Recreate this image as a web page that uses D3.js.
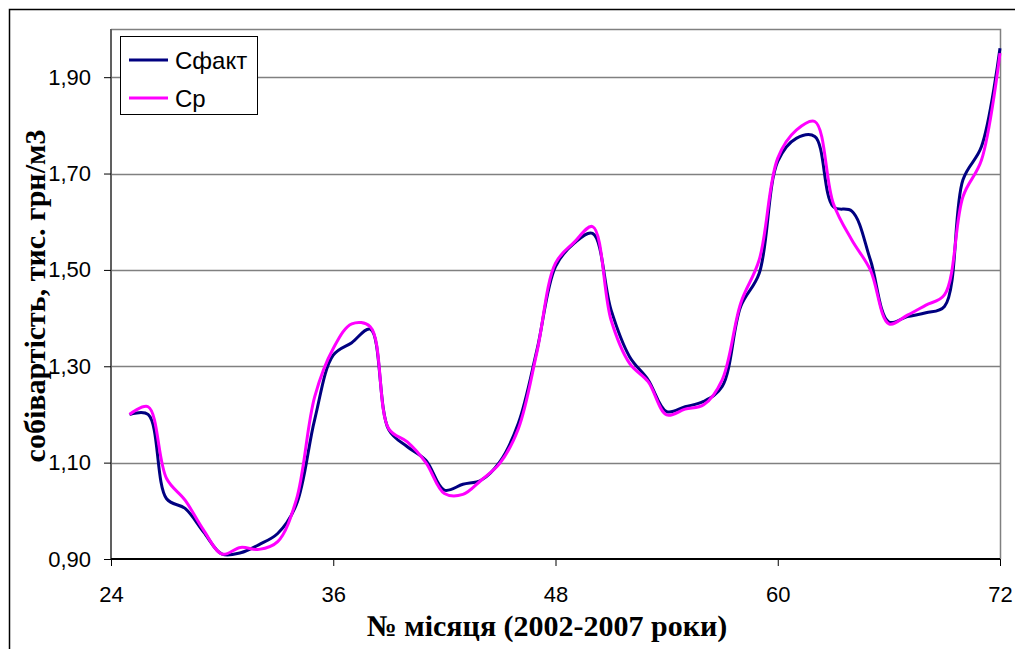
<html>
<head>
<meta charset="utf-8">
<script src="https://d3js.org/d3.v7.min.js"></script>
<style>
  body { margin: 0; background: #fff; }
</style>
</head>
<body>
<svg width="1015" height="649"></svg>
<script>
// months on the x axis
var months = [25, 26, 27, 28, 29, 30, 31, 32, 33, 34, 35, 36,
              37, 38, 39, 40, 41, 42, 43, 44, 45, 46, 47, 48,
              49, 50, 51, 52, 53, 54, 55, 56, 57, 58, 59, 60,
              61, 62, 63, 64, 65, 66, 67, 68, 69, 70, 71, 72];
// Сфакт
var cFact = [1.200, 1.200, 1.025, 1.005, 0.956, 0.910, 0.913, 0.930, 0.953, 1.012, 1.190, 1.323,
             1.349, 1.377, 1.168, 1.133, 1.105, 1.043, 1.055, 1.064, 1.102, 1.182, 1.334, 1.507,
             1.555, 1.576, 1.417, 1.320, 1.272, 1.206, 1.216, 1.227, 1.258, 1.424, 1.493, 1.725,
             1.773, 1.777, 1.631, 1.622, 1.521, 1.392, 1.403, 1.411, 1.424, 1.687, 1.756, 1.960];
// Ср
var cCalc = [1.200, 1.216, 1.067, 1.022, 0.960, 0.910, 0.924, 0.920, 0.936, 1.022, 1.237, 1.337,
             1.388, 1.382, 1.170, 1.143, 1.100, 1.036, 1.034, 1.064, 1.099, 1.171, 1.330, 1.514,
             1.557, 1.590, 1.396, 1.306, 1.268, 1.199, 1.211, 1.220, 1.272, 1.431, 1.521, 1.732,
             1.790, 1.808, 1.638, 1.562, 1.500, 1.388, 1.406, 1.427, 1.448, 1.652, 1.728, 1.950];

var xTicks = [24, 36, 48, 60, 72];
var yTicks = [0.9, 1.1, 1.3, 1.5, 1.7, 1.9];
var seriesNames = ['Сфакт', 'Ср'];
var colors = ['#000080', '#ff00ff'];

var plotLeft = 111, plotRight = 1000, plotTop = 29, plotBottom = 559;

var svg = d3.select('svg');

// outer frame (cut by the window at right and bottom)
svg.append('rect')
  .attr('x', 9.5).attr('y', 9.5)
  .attr('width', 1030).attr('height', 660)
  .style('fill', 'none')
  .style('stroke', '#000')
  .style('stroke-width', 1.5);

var x = d3.scaleLinear().domain([24, 72]).range([plotLeft, plotRight]);
var y = d3.scaleLinear().domain([0.9, 2.0]).range([plotBottom, plotTop]);

var fmt = function (d) { return d3.format('.2f')(d).replace('.', ','); };

// gridlines
svg.append('g')
  .selectAll('line')
  .data(yTicks.slice(1))
  .enter()
  .append('line')
  .attr('x1', plotLeft).attr('x2', plotRight)
  .attr('y1', function (d) { return Math.round(y(d)) + 0.5; })
  .attr('y2', function (d) { return Math.round(y(d)) + 0.5; })
  .style('stroke', '#808080')
  .style('stroke-width', 1.5);

// plot border top + right
svg.append('path')
  .attr('d', 'M' + plotLeft + ',' + (plotTop + 0.5) + 'H' + (plotRight + 0.5) + 'V' + plotBottom)
  .style('fill', 'none')
  .style('stroke', '#808080')
  .style('stroke-width', 1.5);

// y axis
var yAxis = svg.append('g')
  .attr('transform', 'translate(' + plotLeft + ',0)')
  .call(d3.axisLeft(y).tickValues(yTicks).tickFormat(fmt).tickSize(7).tickPadding(13));
yAxis.select('.domain').attr('d', 'M0,' + plotTop + 'V' + plotBottom)
  .style('stroke', '#606060').style('stroke-width', 2);
yAxis.selectAll('.tick line').style('stroke', '#000');
yAxis.selectAll('text')
  .style('font-family', 'Liberation Sans, Arial, sans-serif')
  .style('font-size', '22px')
  .style('fill', '#000');

// x axis
var xAxis = svg.append('g')
  .attr('transform', 'translate(0,' + plotBottom + ')')
  .call(d3.axisBottom(x).tickValues(xTicks).tickFormat(d3.format('d')).tickSize(7).tickPadding(20));
xAxis.select('.domain').attr('d', 'M' + plotLeft + ',0H' + plotRight)
  .style('stroke', '#000').style('stroke-width', 2);
xAxis.selectAll('.tick line').style('stroke', '#000');
xAxis.selectAll('text')
  .style('font-family', 'Liberation Sans, Arial, sans-serif')
  .style('font-size', '22px')
  .style('fill', '#000');

// lines
var line = d3.line()
  .x(function (d) { return x(d[0]); })
  .y(function (d) { return y(d[1]); })
  .curve(d3.curveCatmullRom.alpha(0.5));

[cFact, cCalc].forEach(function (vals, i) {
  svg.append('path')
    .datum(months.map(function (m, idx) { return [m, vals[idx]]; }))
    .attr('d', line)
    .style('fill', 'none')
    .style('stroke', colors[i])
    .style('stroke-width', 3)
    .style('stroke-linejoin', 'round');
});

// legend
var legend = svg.append('g');
legend.append('rect')
  .attr('x', 120.5).attr('y', 36.5)
  .attr('width', 137).attr('height', 78)
  .style('fill', '#fff')
  .style('stroke', '#000')
  .style('stroke-width', 1);
legend.selectAll('line')
  .data(seriesNames)
  .enter()
  .append('line')
  .attr('x1', 129).attr('x2', 168)
  .attr('y1', function (d, idx) { return 60 + idx * 38; })
  .attr('y2', function (d, idx) { return 60 + idx * 38; })
  .style('stroke', function (d, idx) { return colors[idx]; })
  .style('stroke-width', 3);
legend.selectAll('text')
  .data(seriesNames)
  .enter()
  .append('text')
  .attr('x', 175)
  .attr('y', function (d, idx) { return 60 + idx * 38; })
  .attr('dy', '0.36em')
  .style('font-family', 'Liberation Sans, Arial, sans-serif')
  .style('font-size', '24px')
  .style('fill', '#000')
  .text(function (d) { return d; });

// axis titles
svg.append('text')
  .attr('x', 547)
  .attr('y', 636)
  .attr('text-anchor', 'middle')
  .style('font-family', 'Liberation Serif, Times New Roman, serif')
  .style('font-weight', 'bold')
  .style('font-size', '30px')
  .style('fill', '#000')
  .text('№ місяця (2002-2007 роки)');

svg.append('text')
  .attr('transform', 'translate(45,296)rotate(-90)')
  .attr('text-anchor', 'middle')
  .style('font-family', 'Liberation Serif, Times New Roman, serif')
  .style('font-weight', 'bold')
  .style('font-size', '30px')
  .style('fill', '#000')
  .text('собівартість, тис. грн/м3');
</script>
</body>
</html>
